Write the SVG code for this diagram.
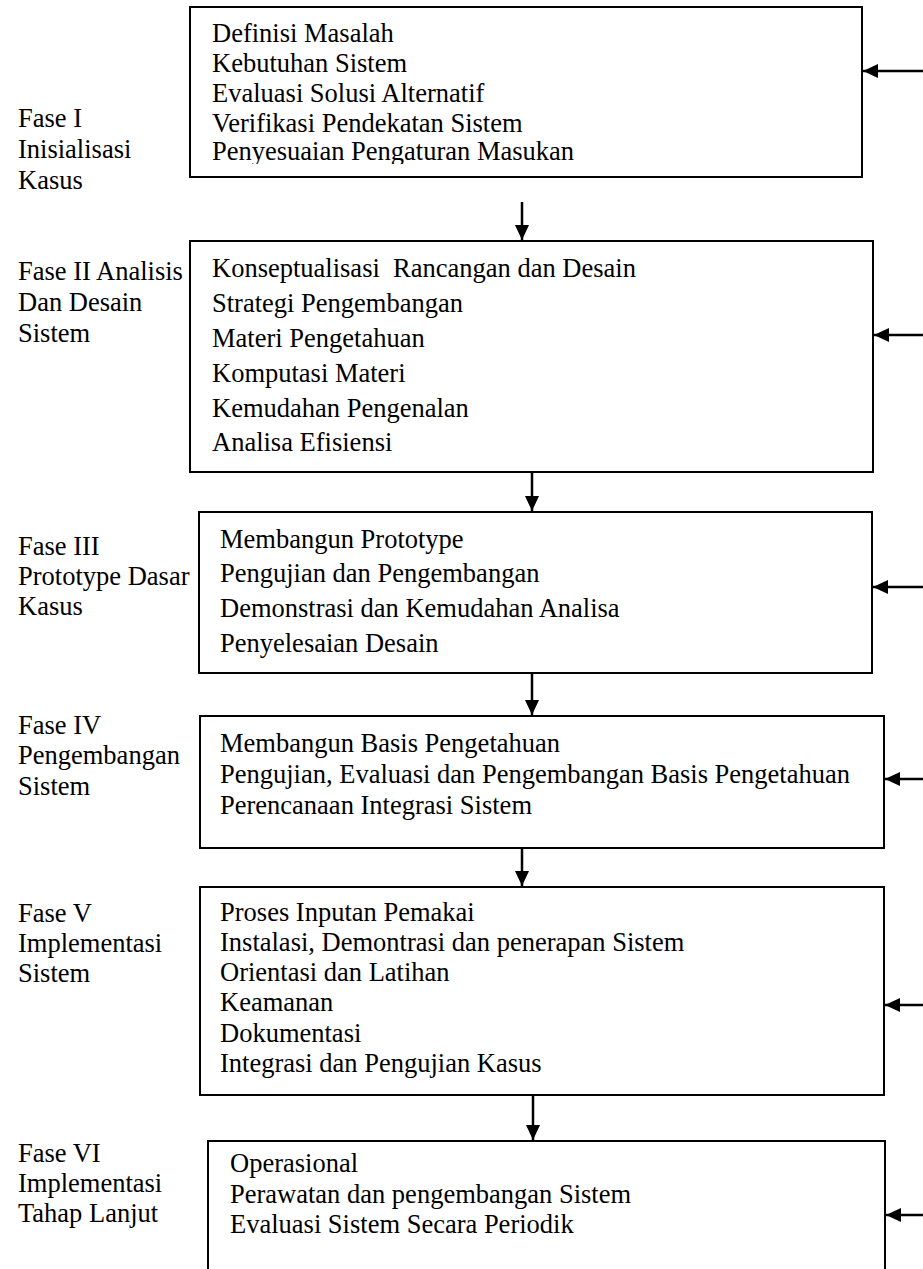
<svg xmlns="http://www.w3.org/2000/svg" width="923" height="1269" viewBox="0 0 923 1269">
<style>
text{font-family:"Liberation Serif","Times New Roman",serif;font-size:26.5px;fill:#000}
.box{fill:none;stroke:#000;stroke-width:2}
.con{stroke:#000;stroke-width:2.5;fill:none}
</style>
<defs>
<marker id="ah" markerWidth="6" markerHeight="5.6" refX="6" refY="2.8" orient="auto" markerUnits="strokeWidth">
<path d="M0,0 L6,2.8 L0,5.6 Z" fill="#000"/>
</marker>
<clipPath id="clip1"><rect x="190" y="7" width="672" height="157"/></clipPath>
</defs>
<rect width="923" height="1269" fill="#fff"/>
<g id="labels">
<text x="18" y="127">Fase I</text>
<text x="18" y="158">Inisialisasi</text>
<text x="18" y="189">Kasus</text>
<text x="18" y="280">Fase II Analisis</text>
<text x="18" y="311">Dan Desain</text>
<text x="18" y="342">Sistem</text>
<text x="18" y="555">Fase III</text>
<text x="18" y="585">Prototype Dasar</text>
<text x="18" y="615">Kasus</text>
<text x="18" y="734">Fase IV</text>
<text x="18" y="764">Pengembangan</text>
<text x="18" y="795">Sistem</text>
<text x="18" y="922">Fase V</text>
<text x="18" y="952">Implementasi</text>
<text x="18" y="982">Sistem</text>
<text x="18" y="1162">Fase VI</text>
<text x="18" y="1192">Implementasi</text>
<text x="18" y="1222">Tahap Lanjut</text>
</g>
<g id="node1">
<rect class="box" x="190" y="7" width="672" height="170"/>
<g clip-path="url(#clip1)">
<text x="212" y="42">Definisi Masalah</text>
<text x="212" y="72">Kebutuhan Sistem</text>
<text x="212" y="102">Evaluasi Solusi Alternatif</text>
<text x="212" y="132">Verifikasi Pendekatan Sistem</text>
<text x="212" y="160">Penyesuaian Pengaturan Masukan</text>
</g>
</g>
<g id="node2">
<rect class="box" x="190" y="241" width="683" height="231"/>
<text x="212" y="277" xml:space="preserve">Konseptualisasi  Rancangan dan Desain</text>
<text x="212" y="312">Strategi Pengembangan</text>
<text x="212" y="347">Materi Pengetahuan</text>
<text x="212" y="382">Komputasi Materi</text>
<text x="212" y="417">Kemudahan Pengenalan</text>
<text x="212" y="451">Analisa Efisiensi</text>
</g>
<g id="node3">
<rect class="box" x="199" y="512" width="673" height="161"/>
<text x="220" y="548">Membangun Prototype</text>
<text x="220" y="582">Pengujian dan Pengembangan</text>
<text x="220" y="617">Demonstrasi dan Kemudahan Analisa</text>
<text x="220" y="652">Penyelesaian Desain</text>
</g>
<g id="node4">
<rect class="box" x="200" y="716" width="684" height="132"/>
<text x="220" y="752">Membangun Basis Pengetahuan</text>
<text x="220" y="783">Pengujian, Evaluasi dan Pengembangan Basis Pengetahuan</text>
<text x="220" y="814">Perencanaan Integrasi Sistem</text>
</g>
<g id="node5">
<rect class="box" x="200" y="887" width="684" height="208"/>
<text x="220" y="921">Proses Inputan Pemakai</text>
<text x="220" y="951">Instalasi, Demontrasi dan penerapan Sistem</text>
<text x="220" y="981">Orientasi dan Latihan</text>
<text x="220" y="1011">Keamanan</text>
<text x="220" y="1042">Dokumentasi</text>
<text x="220" y="1072">Integrasi dan Pengujian Kasus</text>
</g>
<g id="node6">
<path class="box" d="M208,1275 V1141 H885 V1275"/>
<text x="230" y="1172">Operasional</text>
<text x="230" y="1203">Perawatan dan pengembangan Sistem</text>
<text x="230" y="1233">Evaluasi Sistem Secara Periodik</text>
</g>
<g id="connectors">
<line class="con" x1="522" y1="202" x2="522" y2="240" marker-end="url(#ah)"/>
<line class="con" x1="532" y1="472" x2="532" y2="511" marker-end="url(#ah)"/>
<line class="con" x1="532" y1="673" x2="532" y2="715" marker-end="url(#ah)"/>
<line class="con" x1="522" y1="848" x2="522" y2="886" marker-end="url(#ah)"/>
<line class="con" x1="533" y1="1095" x2="533" y2="1140" marker-end="url(#ah)"/>
<line class="con" x1="923" y1="71" x2="863" y2="71" marker-end="url(#ah)"/>
<line class="con" x1="923" y1="335" x2="874" y2="335" marker-end="url(#ah)"/>
<line class="con" x1="923" y1="587" x2="873" y2="587" marker-end="url(#ah)"/>
<line class="con" x1="923" y1="779" x2="885" y2="779" marker-end="url(#ah)"/>
<line class="con" x1="923" y1="1005" x2="885" y2="1005" marker-end="url(#ah)"/>
<line class="con" x1="923" y1="1215" x2="886" y2="1215" marker-end="url(#ah)"/>
</g>
</svg>
